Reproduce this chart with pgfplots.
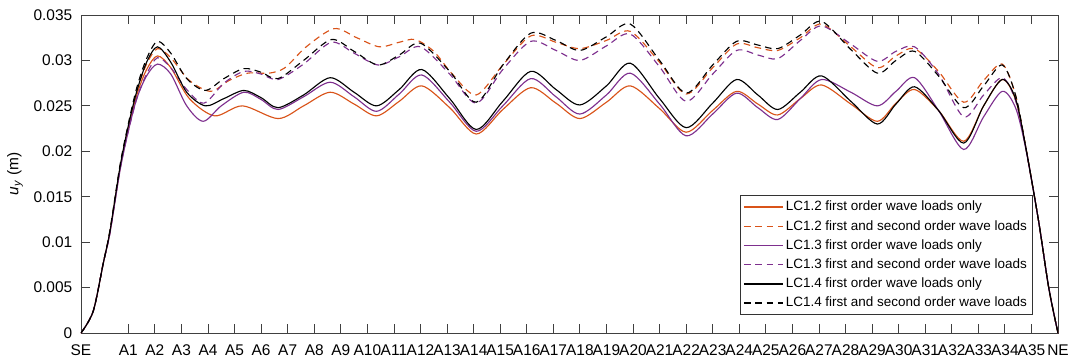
\documentclass[border=0pt]{standalone}
\usepackage{pgfplots}
\pgfplotsset{compat=1.18}
\usepackage{fontspec}
\setmainfont{Liberation Sans}
\definecolor{morange}{HTML}{D95319}
\definecolor{mpurple}{HTML}{7E2F8E}
\begin{document}
\begin{tikzpicture}
\begin{axis}[
  scale only axis, width=732.75pt, height=238.5pt,
  xmin=-0.78, xmax=36, ymin=0, ymax=0.035,
  scaled y ticks=false, scaled x ticks=false,
  xtick={-0.78,1,2,...,35,36},
  xticklabels={SE,A1,A2,A3,A4,A5,A6,A7,A8,A9,A10,A11,A12,A13,A14,A15,A16,A17,A18,A19,A20,A21,A22,A23,A24,A25,A26,A27,A28,A29,A30,A31,A32,A33,A34,A35,NE},
  ytick={0,0.005,0.01,0.015,0.02,0.025,0.03,0.035},
  yticklabels={0,0.005,0.01,0.015,0.02,0.025,0.03,0.035},
  tick label style={font=\fontsize{11.6}{13}\selectfont},
  xticklabel style={yshift=-5.5pt},
  yticklabel style={xshift=-3pt},
  /pgf/number format/assume math mode=true,
  major tick length=7pt,
  tick align=inside,
  axis line style={line width=0.6pt, black!75},
  every tick/.style={black!75, line width=0.6pt},
  ylabel={\textit{u}\textsubscript{\textit{y}} (m)},
  ylabel style={at={(axis description cs:-0.0675,0.5)}, anchor=center, font=\fontsize{11.6}{13}\selectfont},
  legend style={at={(axis description cs:0.974,0.0575)}, anchor=south east,
    font=\fontsize{10.1}{12}\selectfont, draw=black!80, line width=0.6pt,
    cells={anchor=west}, row sep=1.6pt, inner sep=2pt},
  legend image code/.code={\draw[#1, line width=1pt] (0pt,0pt) -- (29pt,0pt);},
  every axis plot/.append style={line width=0.85pt, smooth},
]
% LC1.2 first order
\addplot[morange] coordinates {
(-0.78,0) (-0.32,0.0024) (0.06,0.0077) (0.31,0.0111) (0.69,0.0181) (1,0.0225) (1.32,0.0262) (1.69,0.0290) (2.1,0.0305) (2.6,0.0292) (3.3,0.0258) (4.25,0.0239) (5.3,0.0250) (6.64,0.0236) (7.6,0.0250) (8.6,0.0265) (9.5,0.0252) (10.35,0.0239) (11.2,0.0255) (12.05,0.0272) (13.1,0.0248) (14.1,0.0219) (15.1,0.0246) (16.15,0.0270) (17.1,0.0253) (18,0.0236) (19,0.0254) (19.9,0.0272) (21,0.0247) (22,0.0221) (23,0.0245) (23.9,0.0266) (24.7,0.0252) (25.45,0.0240) (26.3,0.0258) (27.1,0.0273) (28.2,0.0252) (29.2,0.0233) (29.9,0.0253) (30.6,0.0268) (31.5,0.0245) (32.45,0.0211) (33.2,0.0250) (33.9,0.0279) (34.4,0.0257) (34.77,0.0207) (35.27,0.0123) (35.65,0.0050) (36,0)};
\addlegendentry{LC1.2 first order wave loads only}
% LC1.2 first and second
\addplot[morange, dash pattern=on 5pt off 3.5pt] coordinates {
(-0.78,0) (-0.32,0.0024) (0.06,0.0077) (0.31,0.0112) (0.69,0.0183) (1,0.0228) (1.32,0.0266) (1.69,0.0296) (2.1,0.0313) (2.6,0.0303) (3.3,0.0278) (4.1,0.0266) (4.8,0.0278) (5.5,0.0286) (6.3,0.0286) (6.9,0.0292) (7.7,0.0315) (8.75,0.0335) (9.6,0.0325) (10.45,0.0315) (11.2,0.0320) (11.8,0.0323) (12.5,0.0310) (13.2,0.0285) (14.1,0.0262) (15.1,0.0295) (16.15,0.0327) (17.1,0.0320) (18,0.0313) (19,0.0322) (19.9,0.0332) (21,0.0298) (22,0.0263) (23,0.0292) (23.9,0.0318) (24.7,0.0314) (25.45,0.0311) (26.3,0.0325) (27.1,0.0340) (28.2,0.0315) (29.2,0.0292) (29.9,0.0305) (30.6,0.0313) (31.5,0.0288) (32.45,0.0254) (33.2,0.0278) (33.9,0.0296) (34.4,0.0262) (34.77,0.0207) (35.27,0.0123) (35.65,0.0050) (36,0)};
\addlegendentry{LC1.2 first and second order wave loads}
% LC1.3 first order
\addplot[mpurple] coordinates {
(-0.78,0) (-0.32,0.0024) (0.06,0.0077) (0.31,0.0110) (0.69,0.0179) (1,0.0222) (1.32,0.0258) (1.69,0.0283) (2.1,0.0296) (2.6,0.0285) (3.2,0.0250) (3.82,0.0233) (4.5,0.0250) (5.35,0.0265) (6,0.0257) (6.64,0.0246) (7.6,0.0260) (8.6,0.0276) (9.5,0.0260) (10.35,0.0244) (11.2,0.0263) (12.05,0.0284) (13.1,0.0254) (14.1,0.0222) (15.1,0.0250) (16.15,0.0280) (17.1,0.0260) (18,0.0241) (19,0.0262) (19.9,0.0286) (21,0.0252) (22,0.0217) (23,0.0241) (23.9,0.0264) (24.7,0.0248) (25.45,0.0235) (26.3,0.0258) (27.1,0.0279) (28.2,0.0265) (29.2,0.0250) (29.9,0.0266) (30.6,0.0281) (31.5,0.0245) (32.45,0.0202) (33.2,0.0238) (33.9,0.0266) (34.4,0.0248) (34.77,0.0205) (35.27,0.0123) (35.65,0.0050) (36,0)};
\addlegendentry{LC1.3 first order wave loads only}
% LC1.3 first and second
\addplot[mpurple, dash pattern=on 5pt off 3.5pt] coordinates {
(-0.78,0) (-0.32,0.0024) (0.06,0.0077) (0.31,0.0110) (0.69,0.0180) (1,0.0222) (1.32,0.0258) (1.69,0.0285) (2.1,0.0303) (2.6,0.0292) (3.2,0.0268) (3.85,0.0253) (4.6,0.0275) (5.35,0.0288) (6,0.0285) (6.64,0.0279) (7.6,0.0296) (8.65,0.0320) (9.5,0.0308) (10.4,0.0295) (11.2,0.0304) (12.0,0.0315) (13.1,0.0285) (14.1,0.0253) (15.1,0.0290) (16.15,0.0321) (17.1,0.0311) (18,0.0300) (19,0.0316) (19.9,0.0329) (21,0.0293) (22,0.0255) (23,0.0285) (23.9,0.0311) (24.7,0.0306) (25.45,0.0302) (26.3,0.0322) (27.1,0.0338) (28.2,0.0318) (29.2,0.0299) (29.9,0.0310) (30.6,0.0315) (31.5,0.0285) (32.45,0.0238) (33.2,0.0262) (33.9,0.0281) (34.4,0.0256) (34.77,0.0207) (35.27,0.0123) (35.65,0.0050) (36,0)};
\addlegendentry{LC1.3 first and second order wave loads}
% LC1.4 first order
\addplot[black] coordinates {
(-0.78,0) (-0.32,0.0024) (0.06,0.0077) (0.31,0.0112) (0.69,0.0183) (1,0.0228) (1.32,0.0266) (1.69,0.0298) (2.1,0.0315) (2.6,0.0298) (3.2,0.0265) (3.9,0.0250) (4.6,0.0258) (5.35,0.0267) (6,0.0259) (6.64,0.0248) (7.6,0.0262) (8.6,0.0281) (9.5,0.0265) (10.35,0.0250) (11.2,0.0268) (12.05,0.0290) (13.1,0.0258) (14.1,0.0224) (15.1,0.0255) (16.15,0.0288) (17.1,0.0268) (18,0.0251) (19,0.0272) (19.9,0.0297) (21,0.0258) (22,0.0226) (23,0.0253) (23.9,0.0279) (24.7,0.0262) (25.45,0.0246) (26.3,0.0265) (27.1,0.0283) (28.2,0.0255) (29.2,0.0230) (29.9,0.0252) (30.6,0.0271) (31.5,0.0245) (32.45,0.0209) (33.2,0.0250) (33.9,0.0279) (34.4,0.0258) (34.77,0.0207) (35.27,0.0123) (35.65,0.0050) (36,0)};
\addlegendentry{LC1.4 first order wave loads only}
% LC1.4 first and second
\addplot[black, dash pattern=on 5pt off 3.5pt] coordinates {
(-0.78,0) (-0.32,0.0024) (0.06,0.0077) (0.31,0.0113) (0.69,0.0185) (1,0.0230) (1.32,0.0270) (1.69,0.0302) (2.1,0.0321) (2.6,0.0308) (3.2,0.0280) (3.9,0.0267) (4.6,0.0280) (5.35,0.0291) (6,0.0287) (6.64,0.0280) (7.6,0.0300) (8.65,0.0323) (9.5,0.0310) (10.4,0.0295) (11.2,0.0306) (12.0,0.0319) (13.1,0.0288) (14.1,0.0254) (15.1,0.0295) (16.15,0.0330) (17.1,0.0322) (18,0.0311) (19,0.0326) (19.9,0.0340) (21,0.0300) (22,0.0264) (23,0.0295) (23.9,0.0321) (24.7,0.0317) (25.45,0.0313) (26.3,0.0328) (27.1,0.0343) (28.2,0.0312) (29.2,0.0286) (29.9,0.0300) (30.6,0.0310) (31.5,0.0283) (32.45,0.0248) (33.2,0.0272) (33.9,0.0295) (34.4,0.0262) (34.77,0.0207) (35.27,0.0123) (35.65,0.0050) (36,0)};
\addlegendentry{LC1.4 first and second order wave loads}
\end{axis}
\pgfresetboundingbox
\path[use as bounding box] (current axis.south west) ++(-60.75pt,-21.75pt) rectangle ++(804.75pt,271.5pt);
\end{tikzpicture}
\end{document}
